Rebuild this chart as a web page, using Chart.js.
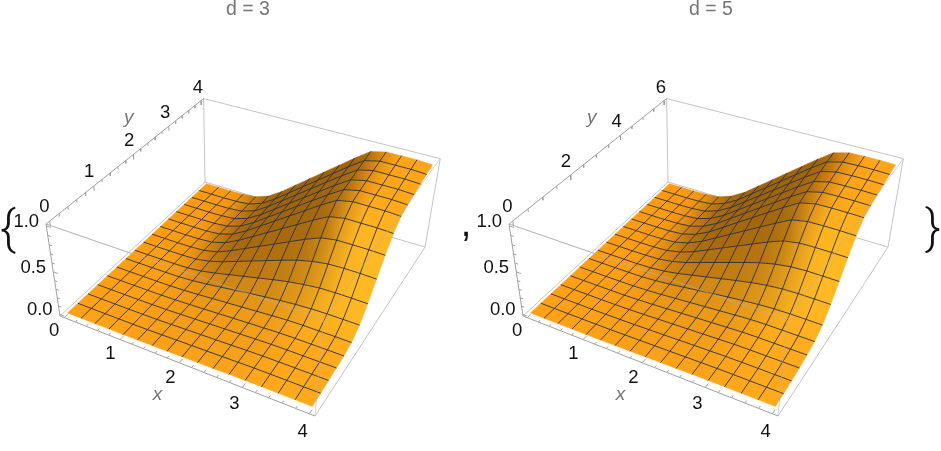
<!DOCTYPE html>
<html>
<head>
<meta charset="utf-8">
<style>html,body{margin:0;padding:0;background:#fff}canvas{display:block}</style>
<script src="https://cdn.jsdelivr.net/npm/chart.js@4/dist/chart.umd.min.js"></script>
</head>
<body>
<canvas id="surfaceChart" width="941" height="451"></canvas>
<script>
// panel titles and axis ticks
var titles = ['d = 3', 'd = 5'];
var xTicks = [0, 1, 2, 3, 4];
var xMinor = [0.2, 0.4, 0.6, 0.8, 1.2, 1.4, 1.6, 1.8, 2.2, 2.4, 2.6, 2.8, 3.2, 3.4, 3.6, 3.8];
var yTicksA = [0, 1, 2, 3, 4];
var yMinorA = [0.2, 0.4, 0.6, 0.8, 1.2, 1.4, 1.6, 1.8, 2.2, 2.4, 2.6, 2.8, 3.2, 3.4, 3.6, 3.8];
var yTicksB = [0, 2, 4, 6];
var yMinorB = [0.5, 1, 1.5, 2.5, 3, 3.5, 4.5, 5, 5.5];
var zTicks = [0, 0.5, 1];
var zMinor = [0.1, 0.2, 0.3, 0.4, 0.6, 0.7, 0.8, 0.9];

// surface heights, one row per y grid line (front to back), 17 x positions
var surfaceA = [
  [0,0,0,0,0,.002,.004,.006,.009,.012,.014,.017,.019,.02,.02,.02,.02],
  [0,0,0,0,.001,.002,.006,.01,.014,.017,.021,.025,.029,.03,.03,.03,.03],
  [0,0,0,0,.001,.003,.008,.013,.018,.023,.028,.034,.038,.04,.04,.04,.04],
  [0,0,0,0,.001,.004,.01,.016,.023,.029,.036,.042,.048,.05,.05,.05,.05],
  [0,0,0,0,.001,.005,.011,.019,.027,.035,.043,.05,.058,.06,.06,.06,.059],
  [0,0,0,0,.002,.007,.017,.029,.041,.052,.064,.076,.086,.09,.09,.09,.089],
  [0,0,0,.001,.003,.014,.032,.054,.077,.099,.121,.14,.155,.166,.17,.17,.168],
  [0,0,0,.001,.006,.024,.057,.096,.135,.174,.213,.248,.275,.295,.3,.3,.297],
  [0,0,0,.002,.009,.038,.089,.15,.212,.273,.334,.392,.435,.462,.47,.47,.465],
  [0,0,0,.003,.013,.05,.12,.202,.284,.365,.447,.529,.6,.628,.63,.63,.624],
  [0,0,0,.003,.015,.062,.146,.246,.347,.447,.547,.647,.739,.77,.77,.77,.762],
  [0,0,0,.003,.017,.069,.163,.275,.387,.499,.611,.722,.826,.86,.86,.86,.851],
  [0,0,0,.004,.018,.071,.169,.285,.401,.516,.632,.748,.854,.89,.89,.89,.881],
  [0,0,0,.004,.018,.073,.173,.291,.41,.528,.646,.764,.874,.91,.91,.91,.901],
  [0,0,0,.004,.019,.075,.178,.299,.421,.542,.664,.785,.898,.935,.935,.935,.926],
  [0,0,0,.004,.019,.076,.181,.306,.43,.554,.678,.802,.917,.955,.955,.955,.945],
  [0,0,0,.004,.02,.078,.185,.312,.439,.566,.692,.819,.936,.975,.975,.975,.965]
];
var surfaceB = [
  [0,0,0,0,0,.002,.004,.006,.009,.011,.014,.017,.019,.02,.02,.02,.02],
  [0,0,0,0,.001,.002,.005,.008,.011,.014,.018,.021,.024,.025,.025,.025,.025],
  [0,0,0,0,.001,.003,.006,.011,.015,.02,.025,.029,.033,.035,.035,.035,.035],
  [0,0,0,0,.001,.004,.009,.016,.022,.029,.035,.042,.048,.05,.05,.05,.05],
  [0,0,0,0,.001,.006,.013,.022,.031,.04,.049,.058,.067,.07,.07,.07,.07],
  [0,0,0,0,.002,.008,.018,.031,.044,.057,.07,.083,.095,.1,.1,.1,.1],
  [0,0,0,.001,.003,.014,.031,.053,.075,.097,.119,.138,.154,.165,.17,.17,.169],
  [0,0,0,.001,.006,.023,.052,.09,.128,.165,.203,.238,.265,.284,.29,.29,.289],
  [0,0,0,.002,.009,.035,.079,.136,.194,.251,.308,.362,.403,.43,.44,.44,.438],
  [0,0,0,.002,.012,.048,.108,.186,.264,.342,.42,.498,.565,.595,.6,.6,.597],
  [0,0,0,.003,.015,.059,.133,.229,.326,.422,.518,.614,.703,.736,.74,.74,.736],
  [0,0,0,.003,.017,.067,.151,.26,.37,.479,.588,.697,.798,.836,.84,.84,.836],
  [0,0,0,.004,.018,.07,.158,.271,.385,.499,.613,.726,.831,.871,.875,.875,.871],
  [0,0,0,.004,.018,.072,.162,.279,.396,.513,.63,.747,.855,.896,.9,.9,.896],
  [0,0,0,.004,.019,.074,.167,.287,.407,.527,.648,.768,.879,.92,.925,.925,.92],
  [0,0,0,.004,.019,.076,.171,.295,.418,.542,.665,.789,.903,.945,.95,.95,.945],
  [0,0,0,.004,.019,.078,.175,.301,.427,.553,.679,.805,.922,.965,.97,.97,.965]
];

// camera: where the box corners land on the page, plus the perspective weights
var cam = { ox: 60, oy: 316, ax: 315, ay: 416, bx: 205, by: 182, cx: 46, cy: 224, wu: -0.122, wv: 0.22, ww: -0.078 };
var panels = [
  { shift: 0, surface: surfaceA, yMax: 4, yTicks: yTicksA, yMinor: yMinorA, title: titles[0] },
  { shift: 463, surface: surfaceB, yMax: 6, yTicks: yTicksB, yMinor: yMinorB, title: titles[1] }
];

function project(u, v, w, shift) {
  var W = 1 + cam.wu * u + cam.wv * v + cam.ww * w;
  var X = cam.ox + (cam.ax * (1 + cam.wu) - cam.ox) * u + (cam.bx * (1 + cam.wv) - cam.ox) * v + (cam.cx * (1 + cam.ww) - cam.ox) * w;
  var Y = cam.oy + (cam.ay * (1 + cam.wu) - cam.oy) * u + (cam.by * (1 + cam.wv) - cam.oy) * v + (cam.cy * (1 + cam.ww) - cam.oy) * w;
  return { x: X / W + shift, y: Y / W };
}
// data space -> box space, the box has 2% padding on every side
function boxU(x) { return (x + 0.08) / 4.16; }
function boxV(y, yMax) { return (y + 0.02 * yMax) / (1.04 * yMax); }
function boxW(z) { return (z + 0.02) / 1.04; }

// orange base, brown where the surface faces -x, yellow where it faces the front
function shade(surface, i, j) {
  var n = surface.length - 1;
  var i0 = Math.max(i - 1, 0), i1 = Math.min(i + 1, n), j0 = Math.max(j - 1, 0), j1 = Math.min(j + 1, n);
  var p = (surface[j][i1] - surface[j][i0]) / (i1 - i0) * 6.2;
  var q = (surface[j1][i] - surface[j0][i]) / (j1 - j0) * 6.2;
  var len = Math.sqrt(1 + q * q);
  var y = Math.max(0, q) / len;
  var dark = 1 - Math.exp(-3 * Math.max(0, p));
  var k = 1 - 0.42 * dark;
  var warm = Math.max(0, 1 - 1.5 * dark);
  var drift = 0.5 * i / n + 0.5 * (1 - j / n);
  return [255 * k, (154 + 14 * drift + 30 * y * warm) * k, (18 + 10 * drift + 14 * y * warm) * k];
}
function rgb(c) { return 'rgb(' + Math.round(c[0]) + ',' + Math.round(c[1]) + ',' + Math.round(c[2]) + ')'; }
function mix(a, b) { return [(a[0] + b[0]) / 2, (a[1] + b[1]) / 2, (a[2] + b[2]) / 2]; }

var canvas = document.getElementById('surfaceChart');
var ctx = canvas.getContext('2d');
var gap = { x: NaN, y: NaN };

function lineSet(points, color, width) {
  return { data: points, showLine: true, fill: false, borderColor: color, borderWidth: width, pointRadius: 0, clip: false };
}
function edge(a, b, s) { return [project(a[0], a[1], a[2], s), project(b[0], b[1], b[2], s)]; }

function panelSets(panel) {
  var s = panel.shift, grid = panel.surface, n = grid.length - 1;
  var sets = [];
  function surfPoint(i, j) {
    return project(boxU(4 * i / n), boxV(panel.yMax * j / n, panel.yMax), boxW(grid[j][i]), s);
  }
  // box edges behind the surface
  var light = '#c4c4c4', axis = '#a0a0a0';
  sets.push(lineSet(edge([0,1,0],[1,1,0],s), light, 1));
  sets.push(lineSet(edge([0,1,0],[0,1,1],s), light, 1));
  sets.push(lineSet(edge([0,1,1],[1,1,1],s), light, 1));
  sets.push(lineSet(edge([1,1,1],[1,1,0],s), light, 1));
  sets.push(lineSet(edge([0,0,0],[0,1,0],s), light, 1));
  sets.push(lineSet(edge([1,0,0],[1,1,0],s), light, 1));
  sets.push(lineSet(edge([0,0,1],[1,0,1],s), light, 1));
  sets.push(lineSet(edge([0,0,1],[0,1,1],s), axis, 1));
  sets.push(lineSet(edge([0,0,0],[0,0,1],s), axis, 1));
  sets.push(lineSet(edge([0,0,0],[1,0,0],s), axis, 1));

  // axis ticks
  var tickPts = [];
  function addTick(a, b) { tickPts.push(project(a[0], a[1], a[2], s), project(b[0], b[1], b[2], s), gap); }
  xTicks.forEach(function (t) { addTick([boxU(t),0,0], [boxU(t),0.02,0]); });
  xMinor.forEach(function (t) { addTick([boxU(t),0,0], [boxU(t),0.012,0]); });
  panel.yTicks.forEach(function (t) { var v = boxV(t, panel.yMax); addTick([0,v,1], [0,v,0.95]); });
  panel.yMinor.forEach(function (t) { var v = boxV(t, panel.yMax); addTick([0,v,1], [0,v,0.97]); });
  zTicks.forEach(function (t) { addTick([0,0,boxW(t)], [0.02,0,boxW(t)]); });
  zMinor.forEach(function (t) { addTick([0,0,boxW(t)], [0.012,0,boxW(t)]); });
  sets.push(lineSet(tickPts, axis, 1));

  // surface cells, far ones first
  for (var j = n - 1; j >= 0; j--) {
    for (var i = 0; i < n; i++) {
      var a = surfPoint(i, j), b = surfPoint(i + 1, j), c = surfPoint(i + 1, j + 1), d = surfPoint(i, j + 1);
      var g = ctx.createLinearGradient((a.x + d.x) / 2, (a.y + d.y) / 2, (b.x + c.x) / 2, (b.y + c.y) / 2);
      g.addColorStop(0, rgb(mix(shade(grid, i, j), shade(grid, i, j + 1))));
      g.addColorStop(1, rgb(mix(shade(grid, i + 1, j), shade(grid, i + 1, j + 1))));
      sets.push({ data: [a, b, c, d, a], showLine: true, fill: 'shape', backgroundColor: g, borderColor: g, borderWidth: 0.5, pointRadius: 0, clip: false });
    }
  }

  // mesh lines, the outer border has none
  var meshColor = 'rgba(38,44,62,0.88)';
  for (var m = 1; m < n; m++) {
    var along = [], across = [];
    for (var k = 0; k <= n; k++) {
      along.push(surfPoint(k, m));
      across.push(surfPoint(m, k));
    }
    sets.push(lineSet(along, meshColor, 1));
    sets.push(lineSet(across, meshColor, 1));
  }

  // box edges in front of the surface show through faintly
  var faint = 'rgba(175,175,175,0.55)';
  sets.push(lineSet(edge([0,0,1],[1,0,1],s), faint, 1));
  sets.push(lineSet(edge([1,0,1],[1,1,1],s), faint, 1));
  sets.push(lineSet(edge([1,0,0],[1,0,1],s), faint, 1));
  return sets;
}

var allSets = panelSets(panels[0]).concat(panelSets(panels[1])).reverse();

// text labels placed from the same projection
var labelPlugin = {
  id: 'labels',
  afterDraw: function (chart) {
    var c = chart.ctx;
    c.save();
    c.textAlign = 'center';
    c.textBaseline = 'middle';
    function text(str, p, dx, dy) { c.fillText(str, p.x + (dx || 0), p.y + (dy || 0)); }
    panels.forEach(function (panel) {
      var s = panel.shift;
      c.fillStyle = '#757575';
      c.font = '19.5px "Liberation Sans"';
      c.fillText(panel.title, 248 + s, 10);
      c.fillStyle = '#111';
      c.font = '18.5px "Liberation Sans"';
      xTicks.forEach(function (t) { text(String(t), project(boxU(t), -0.09, 0, s), 6, -1.5); });
      panel.yTicks.forEach(function (t) { text(String(t), project(0, boxV(t, panel.yMax), 1.16, s), -3, 2); });
      zTicks.forEach(function (t) { text(t.toFixed(1), project(0, 0, boxW(t), s), -20, -4); });
      c.fillStyle = '#757575';
      c.font = 'italic 19px "Liberation Sans"';
      text('x', project(boxU(2), -0.2, 0, s), 12, -7);
      text('y', project(-0.1, boxV(panel.yMax * 0.62, panel.yMax), 1, s), 0, -17);
    });
    c.fillStyle = '#111';
    c.font = '300 48px Roboto';
    c.fillText('{', 8, 232);
    c.fillText('}', 933, 232);
    c.font = '38px "Liberation Sans"';
    c.fillText(',', 466, 226);
    c.restore();
  }
};

var surfaceChart = new Chart(ctx, {
  type: 'scatter',
  data: { datasets: allSets },
  plugins: [labelPlugin],
  options: {
    responsive: false,
    animation: false,
    events: [],
    layout: { padding: 0 },
    elements: { line: { tension: 0 } },
    plugins: { legend: { display: false }, tooltip: { enabled: false } },
    scales: {
      x: { type: 'linear', min: 0, max: 941, display: false },
      y: { type: 'linear', min: 0, max: 451, reverse: true, display: false }
    }
  }
});
</script>
</body>
</html>
